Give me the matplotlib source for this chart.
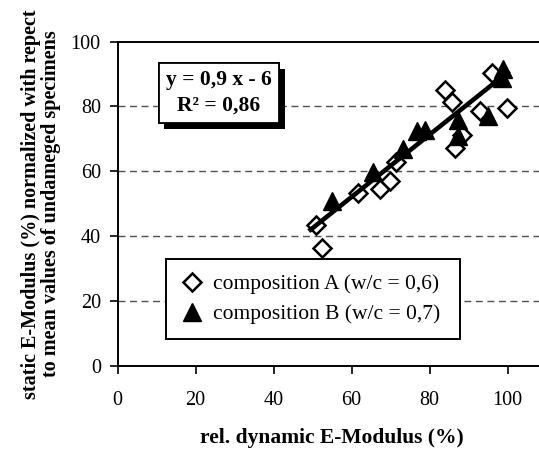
import matplotlib.pyplot as plt
import matplotlib.patheffects as pe

# composition A (w/c = 0,6) - open diamonds
comp_a_x = [50.8, 52.4, 61.7, 67.3, 69.9, 71.5, 84.0, 85.7, 86.5, 88.3, 92.9, 95.9, 99.8]
comp_a_y = [43.5, 36.3, 53.2, 54.5, 57.0, 63.0, 85.1, 81.4, 67.1, 71.2, 78.6, 90.2, 79.4]

# composition B (w/c = 0,7) - filled triangles
comp_b_x = [54.9, 65.6, 73.2, 76.8, 78.8, 87.3, 87.4, 95.1, 98.5, 98.8]
comp_b_y = [51.0, 59.8, 67.0, 72.3, 72.8, 70.9, 75.8, 77.0, 88.9, 91.4]

# trendline end points as drawn in the chart
trend_x = [49.5, 100.0]
trend_y = [42.0, 90.5]

xticks = [0, 20, 40, 60, 80, 100]
yticks = [0, 20, 40, 60, 80, 100]

plt.rcParams['font.family'] = 'Liberation Serif'

fig = plt.figure(figsize=(5.39, 4.5), dpi=100)
# plot area runs past the right edge of the picture, like the cropped original
ax = fig.add_axes([0.218, 0.1867, 0.796, 0.721])

ax.set_xlim(0, 110)
ax.set_ylim(0, 100)
ax.set_xticks(xticks)
ax.set_yticks(yticks)
ax.tick_params(labelsize=14.5, width=1.2, length=6, direction='out')
ax.tick_params(axis='x', pad=12)
ax.tick_params(axis='y', pad=6)

for y in yticks[1:-1]:
    ax.axhline(y, color='#505050', lw=1.0, dashes=(5, 3.3), zorder=1)

for s in ['left', 'bottom', 'top']:
    ax.spines[s].set_linewidth(1.4)
ax.spines['right'].set_visible(False)

ax.plot(comp_a_x, comp_a_y, 'D', ms=9, mfc='white', mec='black', mew=1.8,
        label='composition A (w/c = 0,6)', zorder=3)
ax.plot(comp_b_x, comp_b_y, '^', ms=13.5, mfc='black', mec='black',
        label='composition B (w/c = 0,7)', zorder=3)
ax.plot(trend_x, trend_y, color='black', lw=3.3, zorder=4)

leg = ax.legend(loc='lower left', bbox_to_anchor=(0.0874, 0.049, 0.735, 0.2),
                mode='expand', fontsize=15.5, frameon=True, fancybox=False,
                framealpha=1, edgecolor='black', borderpad=0.7,
                handletextpad=0.5, handlelength=1.0, labelspacing=0.45)
leg.get_frame().set_linewidth(1.4)

t = ax.text(26, 84.1, 'y = 0,9 x - 6\nR² = 0,86', ha='center', va='center',
            fontsize=15.5, fontweight='bold', linespacing=1.35, zorder=5,
            bbox=dict(boxstyle='square,pad=0.35', fc='white', ec='black', lw=1.3))
t.get_bbox_patch().set_path_effects([
    pe.withSimplePatchShadow(offset=(3.8, -4), shadow_rgbFace='black', alpha=1), pe.Normal()])

ax.set_xlabel('rel. dynamic E-Modulus (%)', fontsize=15.5, fontweight='bold')
ax.xaxis.set_label_coords(0.5, -0.19)
ax.set_ylabel('static E-Modulus (%) normalized with repect\nto mean values of undameged specimens',
              fontsize=14.5, fontweight='bold', linespacing=1.0)
ax.yaxis.set_label_coords(-0.132, 0.5)

fig.savefig('out.png', dpi=100)
